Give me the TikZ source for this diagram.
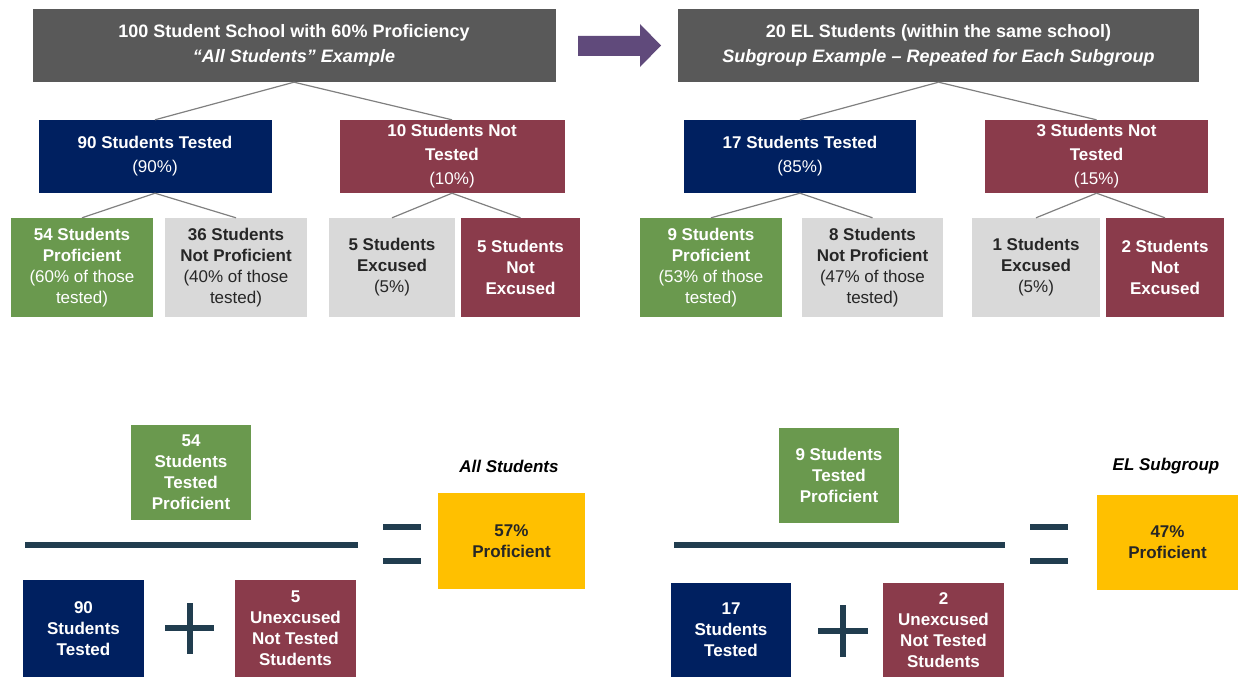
\documentclass[tikz,border=0pt]{standalone}
\usepackage{fontspec}
\setmainfont{Liberation Sans}
\usepackage{tikz}
\usetikzlibrary{calc}
\definecolor{titlegray}{HTML}{595959}
\definecolor{navy}{HTML}{002060}
\definecolor{maroon}{HTML}{8A3B4B}
\definecolor{leafgreen}{HTML}{6A994E}
\definecolor{lightgray}{HTML}{D9D9D9}
\definecolor{gold}{HTML}{FFC000}
\definecolor{arrowpurple}{HTML}{604A7B}
\definecolor{bardark}{HTML}{213D4F}
\definecolor{edgegray}{HTML}{808080}
\tikzstyle{box}=[rectangle,inner sep=0pt,align=center]
\tikzstyle{titlebox}=[box,fill=titlegray,text=white,minimum height=73,font=\fontsize{18}{25}\selectfont\bfseries]
\tikzstyle{midbox}=[box,text=white,minimum height=73,font=\fontsize{17}{24}\selectfont]
\tikzstyle{leafbox}=[box,minimum height=99,font=\fontsize{17}{21}\selectfont]
\tikzstyle{eqbox}=[box,text=white,font=\fontsize{17}{21}\selectfont\bfseries]
\tikzstyle{treeedge} = [draw,line width=1.2pt,edgegray]
\tikzstyle{mathbar} = [draw,line width=5.5pt,bardark]

\begin{document}
\begin{tikzpicture}[x=1pt,y=-1pt]
\useasboundingbox (0,0) rectangle (1238,677);

    % all students tree
    \node[titlebox,minimum width=523] (tl) at (294,45.5) {100 Student School with 60\% Proficiency\\\itshape “All Students” Example};
    \node[midbox,fill=navy,minimum width=233] (lt) at (155,156.5) {\textbf{90 Students Tested}\\(90\%)};
    \node[midbox,fill=maroon,minimum width=225] (ln) at (452,156.5) {\textbf{10 Students Not}\\\textbf{Tested}\\(10\%)};
    \node[leafbox,fill=leafgreen,text=white,minimum width=142] (lp) at (82,267.5) {\textbf{54 Students}\\\textbf{Proficient}\\(60\% of those\\tested)};
    \node[leafbox,fill=lightgray,text=black!85,minimum width=142] (lnp) at (236,267.5) {\textbf{36 Students}\\\textbf{Not Proficient}\\(40\% of those\\tested)};
    \node[leafbox,fill=lightgray,text=black!85,minimum width=126] (le) at (392,267.5) {\textbf{5 Students}\\\textbf{Excused}\\(5\%)};
    \node[leafbox,fill=maroon,text=white,minimum width=119] (lne) at (520.5,267.5) {\textbf{5 Students}\\\textbf{Not}\\\textbf{Excused}};

    % subgroup tree
    \node[titlebox,minimum width=521] (tr) at (938.5,45.5) {20 EL Students (within the same school)\\\itshape Subgroup Example – Repeated for Each Subgroup};
    \node[midbox,fill=navy,minimum width=232] (rt) at (800,156.5) {\textbf{17 Students Tested}\\(85\%)};
    \node[midbox,fill=maroon,minimum width=223] (rn) at (1096.5,156.5) {\textbf{3 Students Not}\\\textbf{Tested}\\(15\%)};
    \node[leafbox,fill=leafgreen,text=white,minimum width=142] (rp) at (711,267.5) {\textbf{9 Students}\\\textbf{Proficient}\\(53\% of those\\tested)};
    \node[leafbox,fill=lightgray,text=black!85,minimum width=141] (rnp) at (872.5,267.5) {\textbf{8 Students}\\\textbf{Not Proficient}\\(47\% of those\\tested)};
    \node[leafbox,fill=lightgray,text=black!85,minimum width=128] (re) at (1036,267.5) {\textbf{1 Students}\\\textbf{Excused}\\(5\%)};
    \node[leafbox,fill=maroon,text=white,minimum width=118] (rne) at (1165,267.5) {\textbf{2 Students}\\\textbf{Not}\\\textbf{Excused}};

    \foreach \source/ \dest in {tl/lt, tl/ln, lt/lp, lt/lnp, ln/le, ln/lne, tr/rt, tr/rn, rt/rp, rt/rnp, rn/re, rn/rne}
        \path[treeedge] (\source.south) -- (\dest.north);

    % block arrow between the two trees
    \fill[arrowpurple] (578,36) -- (640,36) -- (640,24) -- (661,45.5) -- (640,67) -- (640,56) -- (578,56) -- cycle;

    % all students rate
    \node[eqbox,fill=leafgreen,minimum width=120,minimum height=95] (lnum) at (191,472.5) {54\\Students\\Tested\\Proficient};
    \node[eqbox,fill=navy,minimum width=121,minimum height=97] (lden) at (83.5,628.5) {90\\Students\\Tested};
    \node[eqbox,fill=maroon,minimum width=121,minimum height=97] (lunx) at (295.5,628.5) {5\\Unexcused\\Not Tested\\Students};
    \node[font=\fontsize{17}{21}\selectfont\bfseries\itshape] (lhead) at (509,466) {All Students};
    \node[eqbox,fill=gold,text=black!85,minimum width=147,minimum height=96] (lres) at (511.5,541) {57\%\\Proficient};
    \path[mathbar] (25,545) -- (358,545);
    \foreach \y in {527,561}
        \path[mathbar] (383,\y) -- (421,\y);
    \path[mathbar] (165,628) -- (214,628);
    \path[mathbar] (190,603) -- (190,654);

    % subgroup rate
    \node[eqbox,fill=leafgreen,minimum width=120,minimum height=95] (rnum) at (839,475.5) {9 Students\\Tested\\Proficient};
    \node[eqbox,fill=navy,minimum width=120,minimum height=94] (rden) at (731,630) {17\\Students\\Tested};
    \node[eqbox,fill=maroon,minimum width=121,minimum height=94] (runx) at (943.5,630) {2\\Unexcused\\Not Tested\\Students};
    \node[font=\fontsize{17}{21}\selectfont\bfseries\itshape] (rhead) at (1166,466) {EL Subgroup};
    \node[eqbox,fill=gold,text=black!85,minimum width=141,minimum height=95] (rres) at (1167.5,542) {47\%\\Proficient};
    \path[mathbar] (674,545) -- (1005,545);
    \foreach \y in {527,561}
        \path[mathbar] (1030,\y) -- (1068,\y);
    \path[mathbar] (818,631) -- (868,631);
    \path[mathbar] (843,605) -- (843,657);

\end{tikzpicture}
\end{document}
